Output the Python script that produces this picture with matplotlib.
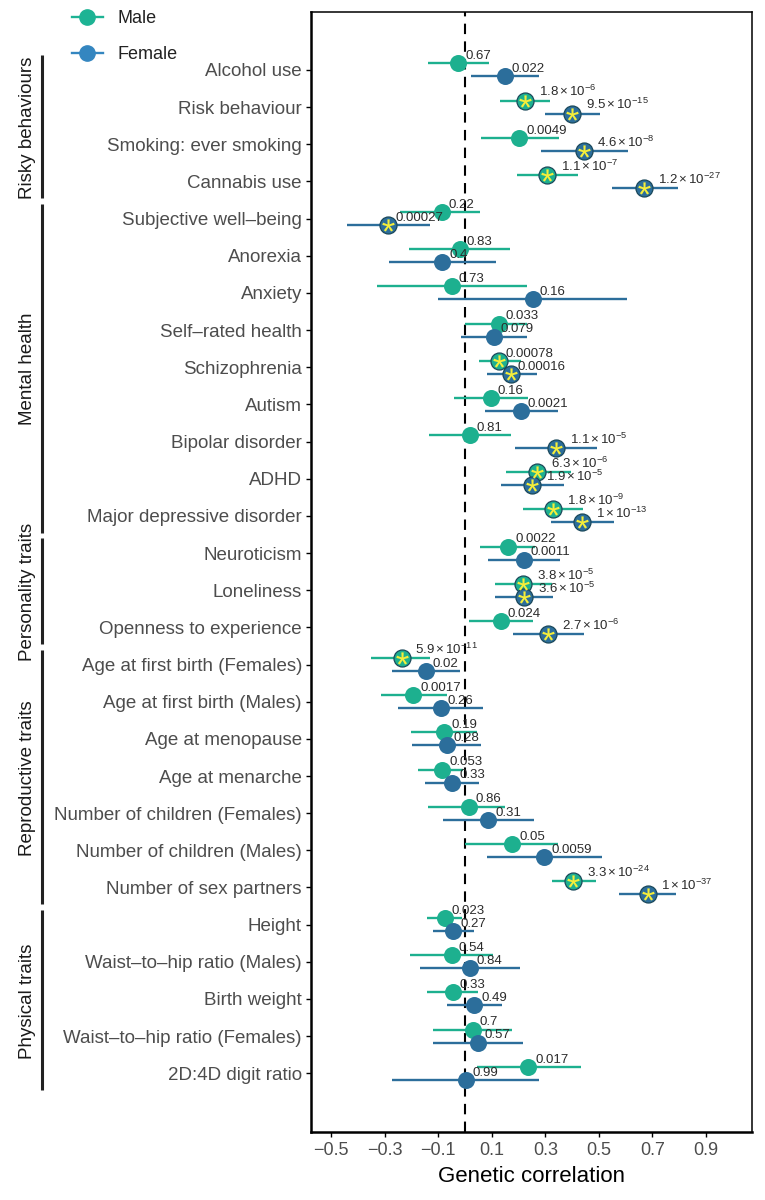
import matplotlib.pyplot as plt
from matplotlib.lines import Line2D

plt.rcParams["font.family"] = ["Liberation Sans", "DejaVu Sans"]
plt.rcParams["mathtext.fontset"] = "custom"
plt.rcParams["mathtext.rm"] = "Liberation Sans"
plt.rcParams["mathtext.it"] = "Liberation Sans:italic"
plt.rcParams["mathtext.bf"] = "Liberation Sans:bold"

traits = [
    "Alcohol use", "Risk behaviour", "Smoking: ever smoking", "Cannabis use",
    "Subjective well\u2013being", "Anorexia", "Anxiety", "Self\u2013rated health",
    "Schizophrenia", "Autism", "Bipolar disorder", "ADHD",
    "Major depressive disorder", "Neuroticism", "Loneliness",
    "Openness to experience", "Age at first birth (Females)",
    "Age at first birth (Males)", "Age at menopause", "Age at menarche",
    "Number of children (Females)", "Number of children (Males)",
    "Number of sex partners", "Height", "Waist\u2013to\u2013hip ratio (Males)",
    "Birth weight", "Waist\u2013to\u2013hip ratio (Females)", "2D:4D digit ratio",
]

male_rg = [-0.025, 0.224, 0.203, 0.306, -0.087, -0.019, -0.049, 0.126,
           0.127, 0.097, 0.019, 0.270, 0.328, 0.161, 0.218, 0.134, -0.237,
           -0.193, -0.078, -0.085, 0.015, 0.177, 0.405, -0.075, -0.050,
           -0.046, 0.029, 0.237]
male_lo = [-0.137, 0.131, 0.060, 0.193, -0.243, -0.208, -0.330, 0.002,
           0.052, -0.041, -0.133, 0.152, 0.218, 0.056, 0.112, 0.016, -0.352,
           -0.315, -0.202, -0.174, -0.139, 0.002, 0.326, -0.141, -0.205,
           -0.141, -0.118, 0.044]
male_hi = [0.090, 0.318, 0.350, 0.423, 0.057, 0.169, 0.233, 0.233, 0.208,
           0.237, 0.171, 0.395, 0.440, 0.261, 0.324, 0.255, -0.131, -0.068,
           0.044, -0.006, 0.150, 0.349, 0.488, -0.010, 0.106, 0.050, 0.174,
           0.433]
male_p = [0.67, 1.8e-6, 0.0049, 1.1e-7, 0.22, 0.83, 0.73, 0.033, 0.00078,
          0.16, 0.81, 6.3e-6, 1.8e-9, 0.0022, 3.8e-5, 0.024, 5.9e-11, 0.0017,
          0.19, 0.053, 0.86, 0.05, 3.3e-24, 0.023, 0.54, 0.33, 0.7, 0.017]

female_rg = [0.148, 0.401, 0.443, 0.670, -0.286, -0.085, 0.253, 0.108,
             0.172, 0.208, 0.339, 0.252, 0.438, 0.220, 0.220, 0.311, -0.146,
             -0.090, -0.068, -0.047, 0.087, 0.296, 0.682, -0.044, 0.019,
             0.034, 0.047, 0.004]
female_lo = [0.021, 0.299, 0.284, 0.549, -0.442, -0.283, -0.102, -0.014,
             0.081, 0.075, 0.187, 0.134, 0.320, 0.087, 0.112, 0.178, -0.272,
             -0.249, -0.197, -0.149, -0.083, 0.083, 0.575, -0.121, -0.168,
             -0.066, -0.121, -0.272]
female_hi = [0.278, 0.504, 0.610, 0.794, -0.131, 0.115, 0.606, 0.233,
             0.268, 0.346, 0.494, 0.371, 0.557, 0.355, 0.328, 0.446, -0.019,
             0.068, 0.059, 0.052, 0.258, 0.511, 0.788, 0.035, 0.205, 0.137,
             0.216, 0.276]
female_p = [0.022, 9.5e-15, 4.6e-8, 1.2e-27, 0.00027, 0.4, 0.16, 0.079,
            0.00016, 0.0021, 1.1e-5, 1.9e-5, 1e-13, 0.0011, 3.6e-5, 2.7e-6,
            0.02, 0.26, 0.28, 0.33, 0.31, 0.0059, 1e-37, 0.27, 0.84, 0.49,
            0.57, 0.99]

groups = ["Risky behaviours", "Mental health", "Personality traits",
          "Reproductive traits", "Physical traits"]
group_first = [0, 4, 13, 16, 23]
group_last = [3, 12, 15, 22, 27]

xticks = [-0.5, -0.3, -0.1, 0.1, 0.3, 0.5, 0.7, 0.9]

MALE = "#1db08f"
FEMALE = "#2c6e9b"
STAR = "#f5ee3a"
SIG_LEVEL = 0.05 / 56


def p_label(p):
    """Format a p-value the way the figure does."""
    if p >= 1e-4:
        return f"{p:.2g}", False
    mant, exp = f"{p:.1e}".split("e")
    mant = f"{float(mant):g}"
    return rf"${mant}\times10^{{{int(exp)}}}$", True


def draw_sex(ax, rg, lo, hi, pvals, colour, shift):
    ys = [i + shift for i in range(len(rg))]
    ax.hlines(ys, lo, hi, color=colour, lw=1.7, zorder=3)
    ax.scatter(rg, ys, s=150, color=colour, zorder=4, linewidths=0)
    sig_x = [x for x, p in zip(rg, pvals) if p < SIG_LEVEL]
    sig_y = [y for y, p in zip(ys, pvals) if p < SIG_LEVEL]
    ax.scatter(sig_x, sig_y, s=150, facecolor=colour, edgecolor="#1d4a5c",
               linewidths=0.9, zorder=5)
    ax.scatter(sig_x, sig_y, s=80, marker="$*$", color=STAR, zorder=6,
               linewidths=0)
    for x, y, p in zip(rg, ys, pvals):
        text, sci = p_label(p)
        ax.annotate(text, (x, y), xytext=(10 if sci else 5, 3),
                    textcoords="offset points", fontsize=9.5, color="#2b2b2b",
                    ha="left", va="baseline", zorder=7)


fig = plt.figure(figsize=(7.65, 12), dpi=100)
ax = fig.add_axes([311 / 765, 1 - 1132 / 1200, 441 / 765, 1120 / 1200])

ax.axvline(0, color="black", lw=1.5, ls=(0, (5, 3.5)), zorder=2)
draw_sex(ax, male_rg, male_lo, male_hi, male_p, MALE, -0.175)
draw_sex(ax, female_rg, female_lo, female_hi, female_p, FEMALE, 0.175)

ax.set_xlim(-0.575, 1.072)
ax.set_ylim(len(traits) - 1 + 1.58, -1.56)
ax.set_yticks(range(len(traits)))
ax.set_yticklabels(traits)
ax.set_xticks(xticks)
ax.tick_params(axis="y", labelsize=13.5, labelcolor="#4d4d4d", length=3.5,
               width=1.0, pad=3)
ax.tick_params(axis="x", labelsize=13, labelcolor="#4d4d4d", length=3.5,
               width=1.0, pad=4)
ax.set_xlabel("Genetic correlation", fontsize=16, labelpad=5)
for side in ["left", "bottom"]:
    ax.spines[side].set_linewidth(1.8)
for side in ["top", "right"]:
    ax.spines[side].set_linewidth(1.1)

# group brackets on the far left
ax_g = fig.add_axes([0, 1 - 1132 / 1200, 60 / 765, 1120 / 1200], sharey=ax)
ax_g.set_xlim(0, 60)
ax_g.axis("off")
for name, first, last in zip(groups, group_first, group_last):
    ax_g.vlines(42, first - 0.4, last + 0.45, color="#222222", lw=2.2)
    ax_g.text(28, (first + last) / 2 + 0.05, name, rotation=90, ha="center",
              va="center", fontsize=13.5, color="#1a1a1a")

handles = [
    Line2D([], [], color="#1db394", marker="o", markersize=11, lw=1.7),
    Line2D([], [], color="#3486c0", marker="o", markersize=11, lw=1.7),
]
fig.legend(handles, ["Male", "Female"], loc="center left",
           bbox_to_anchor=(72 / 765, 1 - 36.5 / 1200), frameon=False,
           fontsize=13, handlelength=1.7, handletextpad=0.8,
           labelspacing=1.05, borderpad=0, borderaxespad=0,
           labelcolor="#222222")

fig.savefig("out.png", dpi=100)
